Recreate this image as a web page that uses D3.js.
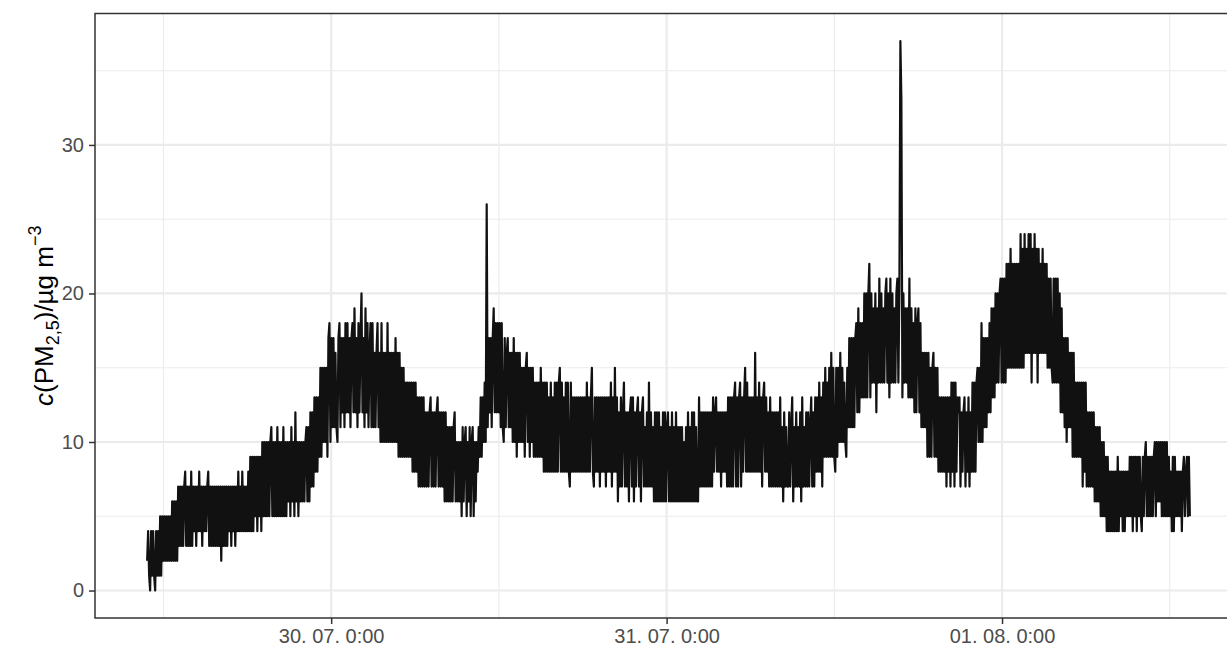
<!DOCTYPE html>
<html><head><meta charset="utf-8">
<script src="https://cdn.jsdelivr.net/npm/d3@7"></script>
<style>body{margin:0;background:#fff}svg{display:block}</style>
</head><body>
<svg id="chart" width="1227" height="652"></svg>
<script>
// ---- data (PM2.5 readings, µg m^-3), sampled every stepSeconds from startTime ----
const startTime = "2019-07-29T10:50:00Z";
const stepSeconds = 258;
const segA = [2,4,1,0,4,1,4,1,0,4, 1,4,1,5,1,5,2,5,2,5, 2,5,2,5,2,6,2,6,2,6, 2,7,3,7,3,7,3,7,8,3,
  7,3,7,3,8,3,7,4,7,3, 7,4,8,4,7,3,7,4,7,4, 7,8,3,7,3,7,3,7,3,7, 3,7,3,7,2,7,3,7,3,7,
  3,7,4,7,3,7,4,7,3,7, 4,8,4,7,4,8,4,7,4,7, 4,8,4,9,4,9,4,9,5,9, 4,9,5,9,4,10,5,10,5,10,
  5,10,5,10,11,5,10,5,10,5, 11,5,10,5,10,5,11,5,10,5, 10,6,10,5,11,6,10,5,12,6, 10,5,10,6,10,6,10,6,10,11,
  6,11,6,12,7,12,7,13,8,13, 8,13,9,15,9,15,10,15,10,15];
const segB = [9,17,18,10,17,11,17,11,16,11, 10,17,18,11,17,12,17,11,18,12, 18,12,17,11,17,18,12,19,12,17,
  11,18,12,17,20,12,17,11,19,12, 18,11,16,18,11,18,11,16,11,16, 18,11,16,10,18,10,16,10,16,10,
  18,10,16,10,16,10,16,10,17,10, 16,9,16,9,15,9,15,9,14,9, 14,9,14,9,14,8,14,8,14,8,
  13,7,13,7,13,7,13,7,12,7, 12,7,12,13,7,12,7,12,7,12, 13,7,12,7,12,7,12,6,12,6,
  11,6,11,6,11,6,11,12,6,10, 6,10,6,10,5,11,6,10,11,5, 10,6,11,5,10,11,5,10,6,10,
  8,11,9,13,9,13,10,14,10,26, 11,17,12,17,11,17,19,12,18,12, 18,12,18,11,18,11,10,17,11,16];
const segC = [17,11,16,11,16,10,17,10,16,9, 16,10,16,10,15,10,15,9,15,16, 10,15,9,15,10,15,9,14,9,14,
  9,14,9,15,9,14,8,14,8,14, 8,13,8,14,8,13,8,14,8,14, 8,14,15,8,14,8,13,8,14,8,
  14,8,7,14,8,13,8,13,8,13, 8,13,8,13,8,13,8,13,8,14, 8,13,8,13,15,8,7,13,8,13,
  8,13,7,13,8,13,8,13,7,13, 8,13,8,14,7,13,8,15,8,13, 6,12,7,13,7,12,14,7,12,7,
  12,6,12,13,7,13,6,12,7,12, 13,7,12,6,12,13,7,11,7,12, 7,14,7,12,7,11,6,12,6,12,
  6,12,6,11,6,12,6,12,6,11, 12,6,11,6,12,6,11,6,12,6, 11,6,11,6,11,6,10,6,11,6];
const segD = [12,6,11,6,12,6,12,6,11,6, 6,13,7,12,7,12,7,12,7,12, 7,12,7,12,7,13,8,12,13,8,
  12,8,12,7,12,8,12,8,12,7, 13,7,13,7,13,7,13,14,7,13, 7,13,14,7,13,8,13,15,8,14,
  8,13,8,13,8,13,8,16,8,13, 8,14,8,13,7,13,14,8,13,8, 12,7,13,7,12,7,12,7,12,7,
  12,7,13,7,11,6,12,7,11,7, 7,12,7,11,13,6,11,7,12,7, 11,7,12,6,13,7,11,7,12,7,
  12,7,11,13,7,12,7,13,8,13, 8,14,8,13,7,14,9,15,9,14, 9,15,9,16,9,15,9,8,15,9,
  15,10,16,10,15,10,14,10,9,15, 11,17,11,17,11,17,11,17,18,12, 19,12,18,13,18,13,20,13,20,13];
const segE = [20,22,13,20,14,19,14,20,12,19, 14,21,14,20,14,19,14,20,21,14, 20,13,21,14,20,14,19,14,20,21,
  14,20,37,33,13,20,14,19,14,19, 13,21,13,19,13,18,12,19,12,18, 19,12,18,11,16,11,16,11,16,9,
  16,9,15,9,15,16,9,15,9,15, 8,13,8,13,8,13,8,13,7,13, 8,13,7,14,8,14,7,14,8,13,
  12,13,7,12,8,12,13,7,12,8, 13,7,12,8,14,8,14,8,14,15, 10,15,10,18,10,17,11,17,11,17,
  12,18,12,19,13,19,13,20,14,20, 14,20,21,14,21,14,21,14,22,15, 22,15,23,15,22,15,22,15,22,15,
  22,15,24,15,23,15,24,16,23,16, 24,16,24,14,23,16,24,16,23,14, 23,16,22,16,23,16,22,16,22,15];
const segF = [21,15,21,15,14,21,14,21,14,21, 14,20,12,19,12,17,11,17,10,17, 11,16,11,16,9,16,9,14,9,14,
  9,14,9,14,7,14,8,14,7,12, 7,12,7,12,7,12,6,11,6,11, 6,11,5,10,5,10,5,9,4,9,
  4,8,4,8,4,8,4,8,4,9, 4,8,5,8,4,8,4,8,5,8, 5,9,5,9,4,9,5,9,4,9,
  5,9,5,4,9,5,9,10,5,9, 5,9,5,9,5,9,10,5,10,6, 10,6,10,5,10,5,10,5,10,5,
  9,5,8,4,9,4,9,5,8,5, 8,5,8,4,8,9,5,8,9,5, 9,5];
const pm25 = [].concat(segA, segB, segC, segD, segE, segF);

const yMajorTicks = [0, 10, 20, 30];
const yMinorTicks = [5, 15, 25, 35];
const xMajorTimes = ["2019-07-30T00:00:00Z", "2019-07-31T00:00:00Z", "2019-08-01T00:00:00Z"];
const xTickLabels = ["30. 07. 0:00", "31. 07. 0:00", "01. 08. 0:00"];
const xMinorTimes = ["2019-07-29T12:00:00Z", "2019-07-30T12:00:00Z", "2019-07-31T12:00:00Z", "2019-08-01T12:00:00Z"];

// ---- layout ----
const panel = {left: 95, top: 13.5, right: 1242, bottom: 618};
const FONT = "'Liberation Sans', Arial, Helvetica, sans-serif";

const t0 = new Date(startTime).getTime();
const data = pm25.map((v, i) => ({t: new Date(t0 + i * stepSeconds * 1000), v}));

const tExt = d3.extent(data, d => d.t.getTime());
const pad = 0.05 * (tExt[1] - tExt[0]);
const x = d3.scaleUtc().domain([new Date(tExt[0] - pad), new Date(tExt[1] + pad)]).range([panel.left, panel.right]);
const yExt = d3.extent(pm25);
const ypad = 0.05 * (yExt[1] - yExt[0]);
const y = d3.scaleLinear().domain([yExt[0] - ypad, yExt[1] + ypad]).range([panel.bottom, panel.top]);

const svg = d3.select("#chart");
svg.append("rect").attr("width", 1227).attr("height", 652).attr("fill", "#fff");

svg.append("clipPath").attr("id", "clip").append("rect")
  .attr("x", panel.left).attr("y", panel.top)
  .attr("width", panel.right - panel.left).attr("height", panel.bottom - panel.top);

const grid = svg.append("g").attr("clip-path", "url(#clip)");
// minor grid
grid.selectAll(".ym").data(yMinorTicks).join("line")
  .attr("x1", panel.left).attr("x2", panel.right).attr("y1", d => y(d)).attr("y2", d => y(d))
  .attr("stroke", "#EBEBEB").attr("stroke-width", 1.1);
grid.selectAll(".xm").data(xMinorTimes.map(s => new Date(s))).join("line")
  .attr("y1", panel.top).attr("y2", panel.bottom).attr("x1", d => x(d)).attr("x2", d => x(d))
  .attr("stroke", "#EBEBEB").attr("stroke-width", 1.1);
// major grid
grid.selectAll(".yM").data(yMajorTicks).join("line")
  .attr("x1", panel.left).attr("x2", panel.right).attr("y1", d => y(d)).attr("y2", d => y(d))
  .attr("stroke", "#EBEBEB").attr("stroke-width", 2.2);
grid.selectAll(".xM").data(xMajorTimes.map(s => new Date(s))).join("line")
  .attr("y1", panel.top).attr("y2", panel.bottom).attr("x1", d => x(d)).attr("x2", d => x(d))
  .attr("stroke", "#EBEBEB").attr("stroke-width", 2.2);

// data line
const line = d3.line().x(d => x(d.t)).y(d => y(d.v));
svg.append("g").attr("clip-path", "url(#clip)").append("path")
  .datum(data).attr("d", line)
  .attr("fill", "none").attr("stroke", "#111").attr("stroke-width", 2.2)
  .attr("stroke-linejoin", "round");

// panel border
svg.append("rect").attr("x", panel.left).attr("y", panel.top)
  .attr("width", panel.right - panel.left).attr("height", panel.bottom - panel.top)
  .attr("fill", "none").attr("stroke", "#333333").attr("stroke-width", 1.5);

// axes
const xAxis = d3.axisBottom(x).tickValues(xMajorTimes.map(s => new Date(s)))
  .tickFormat((d, i) => xTickLabels[i]).tickSize(6).tickPadding(5);
const gx = svg.append("g").attr("transform", `translate(0,${panel.bottom})`).call(xAxis);
const yAxis = d3.axisLeft(y).tickValues(yMajorTicks).tickSize(6).tickPadding(5);
const gy = svg.append("g").attr("transform", `translate(${panel.left},0)`).call(yAxis);
[gx, gy].forEach(g => {
  g.select(".domain").remove();
  g.selectAll(".tick line").attr("stroke", "#333333").attr("stroke-width", 1.5);
  g.selectAll(".tick text").attr("fill", "#4D4D4D").style("font-family", FONT).style("font-size", "20px");
});

// y title
const title = svg.append("text")
  .attr("transform", `translate(53,${(panel.top + panel.bottom) / 2}) rotate(-90)`)
  .attr("text-anchor", "middle").attr("fill", "#000")
  .style("font-family", FONT).style("font-size", "26px");
title.append("tspan").attr("font-style", "italic").text("c");
title.append("tspan").text("(PM");
title.append("tspan").attr("font-size", "18px").attr("dy", 6).text("2,5");
title.append("tspan").attr("dy", -6).text(")/µg m");
title.append("tspan").attr("font-size", "18px").attr("dy", -12).text("\u22123");
</script>
</body></html>
